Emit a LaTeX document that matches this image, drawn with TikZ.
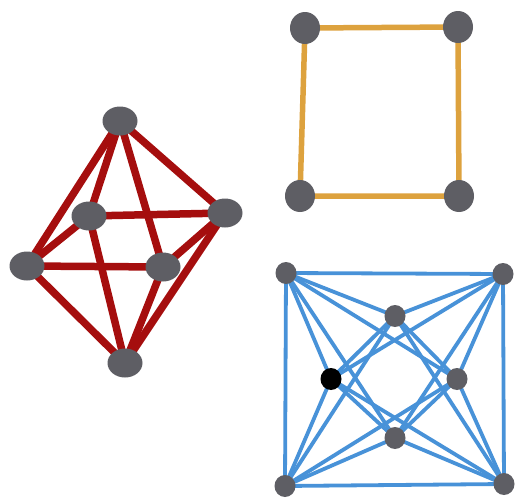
\documentclass[tikz,border=0pt]{standalone}
\usetikzlibrary{shapes.geometric}
\definecolor{vgray}{RGB}{94,94,100}
\definecolor{ored}{RGB}{165,14,14}
\definecolor{sqor}{RGB}{221,162,62}
\definecolor{cblue}{RGB}{72,146,216}
\tikzset{
  redv/.style={ellipse,fill=vgray,draw=none,minimum width=35pt,minimum height=29pt,inner sep=0pt},
  orv/.style={ellipse,fill=vgray,draw=none,minimum width=30pt,minimum height=32pt,inner sep=0pt},
  bluev/.style={ellipse,fill=vgray,draw=none,minimum width=21pt,minimum height=22pt,inner sep=0pt},
  rededge/.style={draw=ored,line width=7.5pt},
  oredge/.style={draw=sqor,line width=5.5pt},
  bedge/.style={draw=cblue,line width=3.8pt},
}
\begin{document}
\begin{tikzpicture}[x=1pt,y=-1pt]
\useasboundingbox (0,0) rectangle (515,498);
% ---- octahedron coordinates
\coordinate (ot) at (120,121);
\coordinate (oul) at (89,216);
\coordinate (or) at (225,213);
\coordinate (ol) at (27,266);
\coordinate (olr) at (163,267);
\coordinate (ob) at (125,363);
% ---- square coordinates
\coordinate (stl) at (305,28);
\coordinate (str) at (458,27);
\coordinate (sbl) at (300,196);
\coordinate (sbr) at (459,196);
% ---- 16-cell coordinates
\coordinate (ctl) at (286,273);
\coordinate (ctr) at (503,274);
\coordinate (cbl) at (285,486);
\coordinate (cbr) at (504,484);
\coordinate (it) at (395,316);
\coordinate (il) at (331,379);
\coordinate (ir) at (457,379);
\coordinate (ib) at (395,438);
% ---- octahedron edges
\foreach \a/\b in {ot/oul,ot/or,ot/ol,ot/olr,ob/oul,ob/or,ob/ol,ob/olr,ol/oul,oul/or,or/olr,olr/ol}
  \draw[rededge] (\a) -- (\b);
% ---- square edges
\draw[oredge] (stl) -- (str) -- (sbr) -- (sbl) -- cycle;
% ---- 16-cell edges
\draw[bedge] (ctl) -- (ctr) -- (cbr) -- (cbl) -- cycle;
\draw[bedge] (it) -- (ir) -- (ib) -- (il) -- cycle;
\foreach \a in {ctl,ctr,cbl,cbr}
  \foreach \b in {it,il,ir,ib}
    \draw[bedge] (\a) -- (\b);
% ---- vertices
\foreach \p in {ot,oul,or,ol,olr,ob}
  \node[redv] (n\p) at (\p) {};
\foreach \p in {stl,str,sbl,sbr}
  \node[orv] (n\p) at (\p) {};
\foreach \p in {ctl,ctr,cbl,cbr,it,ir,ib}
  \node[bluev] (n\p) at (\p) {};
\node[bluev,fill=black] (nil) at (il) {};
\end{tikzpicture}
\end{document}
